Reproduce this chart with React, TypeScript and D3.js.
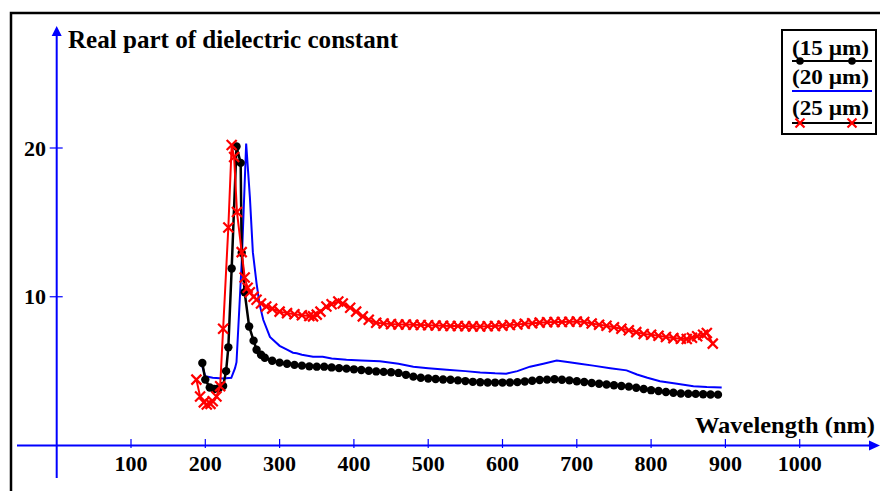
import React from "react";
import * as d3 from "d3";

// ---- data ----
const xTicks = [100, 200, 300, 400, 500, 600, 700, 800, 900, 1000];
const yTicks = [10, 20];

const wl15 = [196, 200, 206, 212, 218, 224, 228, 231, 235.5, 242, 247.6, 249, 253, 259, 265, 269, 275, 280, 290,
  300, 310, 320, 330, 340, 350, 360, 370, 380, 390, 400, 410, 420, 430, 440, 450, 460, 470, 480, 490, 500,
  510, 520, 530, 540, 550, 560, 570, 580, 590, 600, 610, 620, 630, 640, 650, 660, 670, 680, 690, 700,
  710, 720, 730, 740, 750, 760, 770, 780, 790, 800, 810, 820, 830, 840, 850, 860, 870, 880, 890];
const eps15 = [5.55, 4.43, 3.9, 3.8, 3.85, 4.0, 5.0, 6.6, 11.9, 20.1, 19.0, 12.95, 10.3, 8.0, 7.05, 6.44, 6.1, 5.9, 5.7,
  5.57, 5.5, 5.42, 5.37, 5.32, 5.3, 5.3, 5.25, 5.2, 5.17, 5.12, 5.08, 5.03, 4.98, 4.95, 4.92, 4.88, 4.75, 4.63, 4.55, 4.5,
  4.47, 4.44, 4.42, 4.38, 4.33, 4.28, 4.25, 4.24, 4.23, 4.23, 4.24, 4.26, 4.3, 4.35, 4.4, 4.43, 4.45, 4.42, 4.38, 4.32,
  4.27, 4.2, 4.15, 4.1, 4.05, 4.0, 3.96, 3.88, 3.8, 3.72, 3.66, 3.6, 3.55, 3.5, 3.48, 3.47, 3.45, 3.43, 3.42];

const wl20 = [196, 200, 205, 210, 224, 235, 240, 242, 249, 255, 260, 264, 269, 273, 278, 287, 300, 310, 318, 323, 330,
  345, 358, 370, 390, 410, 435, 460, 480, 500, 525, 550, 570, 590, 605, 620, 637, 655, 673, 690, 704, 722, 745, 767,
  781, 795, 812, 835, 857, 875, 895];
const eps20 = [5.3, 4.65, 4.6, 4.55, 4.5, 4.55, 5.2, 5.6, 12.3, 20.3, 16.7, 13.0, 10.9, 9.5, 8.45, 7.3, 6.7, 6.45, 6.24, 6.2, 6.1,
  5.97, 5.97, 5.85, 5.77, 5.72, 5.66, 5.5, 5.3, 5.2, 5.1, 5.0, 4.9, 4.85, 4.83, 5.0, 5.3, 5.5, 5.72, 5.6, 5.5, 5.37, 5.2, 5.05,
  4.77, 4.55, 4.32, 4.15, 3.98, 3.93, 3.9];

const wl25 = [188, 193, 198, 202, 207, 210, 215, 220, 224, 231, 235.5, 238.8, 242.6, 249, 253, 257, 260, 265, 269, 275, 282, 290,
  300, 310, 320, 330, 340, 345, 350, 355, 363, 370, 379, 385, 395, 403, 412, 420, 430, 440, 450, 460, 470, 480, 490, 500,
  510, 520, 530, 540, 550, 560, 570, 580, 590, 600, 610, 620, 630, 640, 650, 660, 670, 680, 690, 700,
  710, 720, 730, 740, 750, 760, 770, 780, 790, 800, 810, 820, 830, 840, 848, 855, 862, 870, 875, 883];
const eps25 = [4.43, 3.3, 2.9, 2.75, 2.8, 2.97, 3.3, 3.98, 7.85, 14.65, 20.2, 19.4, 15.7, 13.0, 11.3, 10.6, 10.3, 10.0, 9.8, 9.55, 9.35, 9.2,
  9.0, 8.9, 8.82, 8.75, 8.7, 8.68, 8.8, 9.0, 9.35, 9.5, 9.68, 9.55, 9.26, 9.0, 8.68, 8.45, 8.25, 8.2, 8.16, 8.14, 8.13, 8.12, 8.1, 8.08,
  8.07, 8.05, 8.04, 8.03, 8.02, 8.01, 8.0, 8.02, 8.04, 8.06, 8.1, 8.14, 8.18, 8.22, 8.26, 8.28, 8.3, 8.3, 8.32, 8.33,
  8.3, 8.2, 8.12, 8.05, 7.95, 7.85, 7.75, 7.62, 7.5, 7.45, 7.38, 7.3, 7.22, 7.18, 7.16, 7.25, 7.35, 7.45, 7.56, 6.85];

const legendLabels = ["(15 \u00b5m)", "(20 \u00b5m)", "(25 \u00b5m)"];
const yTitle = "Real part of dielectric constant";
const xTitle = "Wavelength (nm)";

export default function App() {
  const W = 880, H = 491;
  const x = d3.scaleLinear().domain([0, 1000]).range([56.7, 799.7]);
  const y = d3.scaleLinear().domain([0, 20]).range([445.5, 148]);
  const blue = "#0000ff";
  const font = "'Liberation Serif', 'Times New Roman', serif";

  const mk = (xs: number[], ys: number[]) => xs.map((v, i) => [v, ys[i]] as [number, number]);
  const s15 = mk(wl15, eps15);
  const s20 = mk(wl20, eps20);
  const s25 = mk(wl25, eps25);
  const line = d3.line<[number, number]>().x(d => x(d[0])).y(d => y(d[1]));

  const cross = (cx: number, cy: number, k: string, r = 5) => (
    <path key={k} d={`M${cx - r},${cy - r}L${cx + r},${cy + r}M${cx - r},${cy + r}L${cx + r},${cy - r}`}
      stroke="#ff0000" strokeWidth={2.2} fill="none" />
  );

  const axY = y(0);
  const axX = x(0);

  return (
    <svg width={W} height={H} style={{ position: "absolute", left: 0, top: 0, background: "#fff" }}>
      <rect x={0} y={0} width={W} height={H} fill="#fff" />
      <rect x={11} y={13} width={1000} height={600} fill="none" stroke="#000" strokeWidth={2.5} />

      {/* axes */}
      <line x1={17} x2={871} y1={axY} y2={axY} stroke={blue} strokeWidth={2} />
      <path d={`M880,${axY}L869,${axY - 5}L869,${axY + 5}Z`} fill={blue} />
      <line x1={axX} x2={axX} y1={478} y2={34} stroke={blue} strokeWidth={2} />
      <path d={`M${axX},26L${axX - 5},36L${axX + 5},36Z`} fill={blue} />

      {xTicks.map(t => (
        <g key={"xt" + t}>
          <line x1={x(t)} x2={x(t)} y1={439} y2={448} stroke={blue} strokeWidth={1.2} />
          <text x={x(t)} y={471} textAnchor="middle" fontFamily={font} fontWeight="bold" fontSize={22} fill="#000">{t}</text>
        </g>
      ))}
      {yTicks.map(t => (
        <g key={"yt" + t}>
          <line x1={axX - 7} x2={axX + 6} y1={y(t)} y2={y(t)} stroke={blue} strokeWidth={1.2} />
          <text x={46} y={y(t) + 7.5} textAnchor="end" fontFamily={font} fontWeight="bold" fontSize={22} fill="#000">{t}</text>
        </g>
      ))}

      <text x={68} y={48} fontFamily={font} fontWeight="bold" fontSize={25} fill="#000" textLength={330} lengthAdjust="spacingAndGlyphs">{yTitle}</text>
      <text x={695} y={433} fontFamily={font} fontWeight="bold" fontSize={24} fill="#000" textLength={180} lengthAdjust="spacingAndGlyphs">{xTitle}</text>

      {/* series */}
      <path d={line(s20) || ""} fill="none" stroke={blue} strokeWidth={2} />
      <path d={line(s15) || ""} fill="none" stroke="#000" strokeWidth={2.5} />
      {s15.map((d, i) => <circle key={"c" + i} cx={x(d[0])} cy={y(d[1])} r={4.2} fill="#000" />)}
      <path d={line(s25) || ""} fill="none" stroke="#ff0000" strokeWidth={2} />
      {s25.map((d, i) => cross(x(d[0]), y(d[1]), "x" + i))}

      {/* legend */}
      <rect x={782} y={30} width={94} height={104} fill="#fff" stroke="#000" strokeWidth={2} />
      <text x={792} y={55} fontFamily={font} fontWeight="bold" fontSize={20} fill="#000" textLength={77} lengthAdjust="spacingAndGlyphs">{legendLabels[0]}</text>
      <line x1={792} x2={872} y1={61} y2={61} stroke="#000" strokeWidth={2} />
      <circle cx={800} cy={61} r={3.8} fill="#000" />
      <circle cx={852} cy={61} r={3.8} fill="#000" />
      <text x={792} y={84} fontFamily={font} fontWeight="bold" fontSize={20} fill="#000" textLength={77} lengthAdjust="spacingAndGlyphs">{legendLabels[1]}</text>
      <line x1={792} x2={872} y1={91} y2={91} stroke={blue} strokeWidth={2} />
      <text x={792} y={115} fontFamily={font} fontWeight="bold" fontSize={20} fill="#000" textLength={77} lengthAdjust="spacingAndGlyphs">{legendLabels[2]}</text>
      <line x1={792} x2={872} y1={123} y2={123} stroke="#000" strokeWidth={2} />
      {cross(800, 123, "l1", 4.5)}
      {cross(852, 123, "l2", 4.5)}
    </svg>
  );
}
